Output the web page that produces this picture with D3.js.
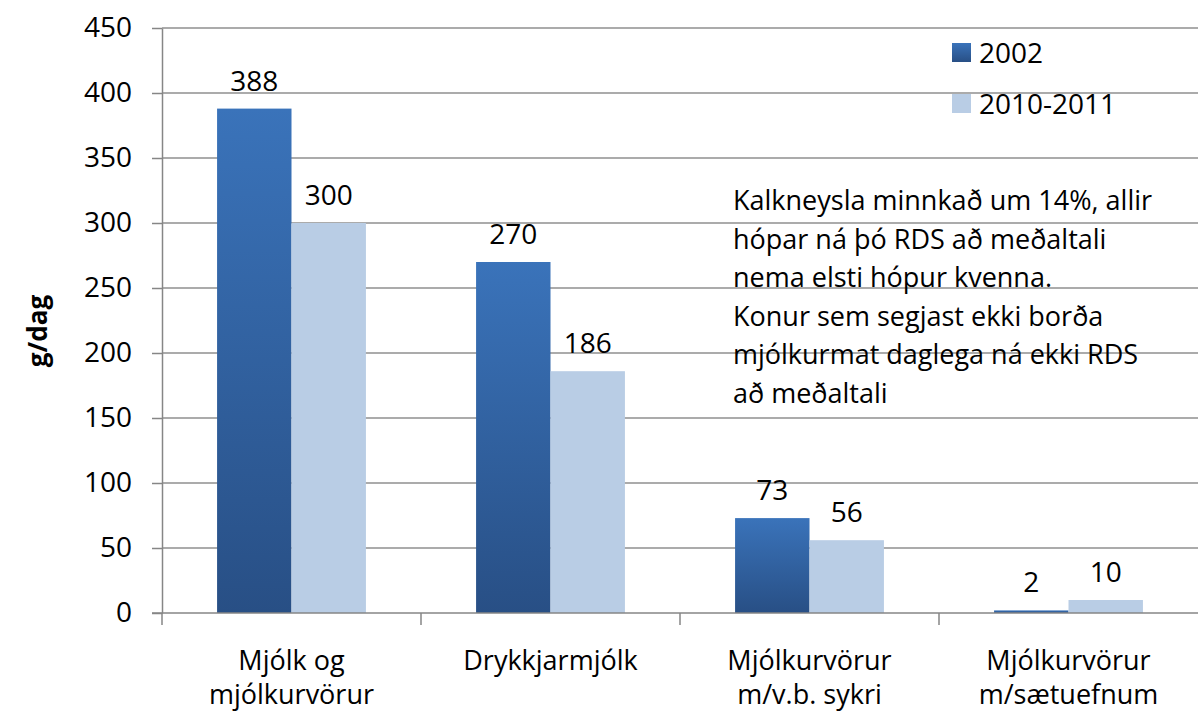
<!DOCTYPE html>
<html>
<head>
<meta charset="utf-8">
<script src="https://cdn.jsdelivr.net/npm/d3@7"></script>
<style>
  html, body { margin: 0; padding: 0; background: #fff; }
  svg { display: block; font-family: "Open Sans", "Noto Sans", sans-serif; }
  .grid line { stroke: #8f8f8f; stroke-width: 1.5; }
  .axis path, .axis line { stroke: #868686; stroke-width: 1.5; }
</style>
</head>
<body>
<svg id="chart" width="1198" height="711"></svg>
<script>
// chart data
const categories = [
  ['Mjólk og', 'mjólkurvörur'],
  ['Drykkjarmjólk'],
  ['Mjólkurvörur', 'm/v.b. sykri'],
  ['Mjólkurvörur', 'm/sætuefnum'],
];
const seriesNames = ['2002', '2010-2011'];
const values2002 = [388, 270, 73, 2];
const values2010 = [300, 186, 56, 10];
const yTicks = [0, 50, 100, 150, 200, 250, 300, 350, 400, 450];
const noteLines = [
  'Kalkneysla minnkað um 14%, allir',
  'hópar ná þó RDS að meðaltali',
  'nema elsti hópur kvenna.',
  'Konur sem segjast ekki borða',
  'mjólkurmat daglega ná ekki RDS',
  'að meðaltali',
];

const W = 1198, H = 711;
const margin = { top: 28, right: 0, bottom: 98, left: 162 };
const svg = d3.select('#chart');

const x0 = d3.scaleBand()
  .domain(d3.range(categories.length))
  .range([margin.left, W - margin.right]);

const x1 = d3.scaleBand()
  .domain(seriesNames)
  .range([0, x0.bandwidth()])
  .paddingOuter(0.74)
  .paddingInner(0);

const y = d3.scaleLinear()
  .domain([0, 450])
  .range([H - margin.bottom, margin.top]);

const defs = svg.append('defs');
const grad = defs.append('linearGradient')
  .attr('id', 'dark-grad')
  .attr('x1', 0).attr('y1', 0).attr('x2', 0).attr('y2', 1);
grad.append('stop').attr('offset', '0%').attr('stop-color', '#3a73ba');
grad.append('stop').attr('offset', '100%').attr('stop-color', '#284f85');

const colors = { '2002': 'url(#dark-grad)', '2010-2011': '#b9cde5' };

// gridlines
svg.append('g')
  .attr('class', 'grid')
  .selectAll('line')
  .data(yTicks.filter((t) => t > 0))
  .join('line')
  .attr('x1', margin.left)
  .attr('x2', W)
  .attr('y1', (d) => y(d))
  .attr('y2', (d) => y(d));

// y axis
const yAxis = svg.append('g')
  .attr('class', 'axis')
  .attr('transform', `translate(${margin.left},0)`)
  .call(d3.axisLeft(y).tickValues(yTicks).tickSize(10).tickPadding(20).tickSizeOuter(0));
yAxis.selectAll('text')
  .attr('font-size', 28)
  .attr('fill', '#000')
  .attr('font-family', '"Open Sans", sans-serif');

// bars
const rows = categories.map((c, i) => ({ i, v: [values2002[i], values2010[i]] }));
const groups = svg.append('g')
  .selectAll('g')
  .data(rows)
  .join('g')
  .attr('transform', (d) => `translate(${x0(d.i)},0)`);

groups.selectAll('rect')
  .data((d) => seriesNames.map((s, k) => ({ s, v: d.v[k] })))
  .join('rect')
  .attr('x', (d) => x1(d.s))
  .attr('width', x1.bandwidth())
  .attr('y', (d) => y(d.v))
  .attr('height', (d) => y(0) - y(d.v))
  .attr('fill', (d) => colors[d.s]);

groups.selectAll('text.val')
  .data((d) => seriesNames.map((s, k) => ({ s, v: d.v[k] })))
  .join('text')
  .attr('class', 'val')
  .attr('x', (d) => x1(d.s) + x1.bandwidth() / 2)
  .attr('y', (d) => y(d.v) - 18)
  .attr('text-anchor', 'middle')
  .attr('font-size', 28)
  .text((d) => d.v);

// x axis
const xAxis = svg.append('g')
  .attr('class', 'axis')
  .attr('transform', `translate(0,${y(0)})`);
xAxis.append('line')
  .attr('x1', margin.left - 10).attr('x2', W)
  .attr('y1', 0).attr('y2', 0);
xAxis.selectAll('line.tick')
  .data(d3.range(categories.length))
  .join('line')
  .attr('class', 'tick')
  .attr('x1', (d) => x0(d)).attr('x2', (d) => x0(d))
  .attr('y1', 0).attr('y2', 12);

const xl = svg.append('g')
  .selectAll('text')
  .data(categories)
  .join('text')
  .attr('x', (d, i) => x0(i) + x0.bandwidth() / 2)
  .attr('y', 670)
  .attr('text-anchor', 'middle')
  .attr('font-size', 27);
xl.selectAll('tspan')
  .data((d) => d)
  .join('tspan')
  .attr('x', function () { return this.parentNode.getAttribute('x'); })
  .attr('dy', (d, i) => (i === 0 ? 0 : 34))
  .text((d) => d);

// y axis title
svg.append('text')
  .attr('transform', 'translate(47,331) rotate(-90)')
  .attr('text-anchor', 'middle')
  .attr('font-size', 26)
  .attr('font-weight', 'bold')
  .text('g/dag');

// legend
const legend = svg.append('g');
seriesNames.forEach((s, k) => {
  const ly = 43 + k * 51;
  legend.append('rect')
    .attr('x', 952).attr('y', ly)
    .attr('width', 19).attr('height', 19)
    .attr('fill', colors[s]);
  legend.append('text')
    .attr('x', 979).attr('y', ly + 20)
    .attr('font-size', 28)
    .text(s);
});

// annotation
svg.append('g')
  .selectAll('text')
  .data(noteLines)
  .join('text')
  .attr('x', 733)
  .attr('y', (d, i) => 210 + i * 38.6)
  .attr('font-size', 27)
  .text((d) => d);
</script>
</body>
</html>
